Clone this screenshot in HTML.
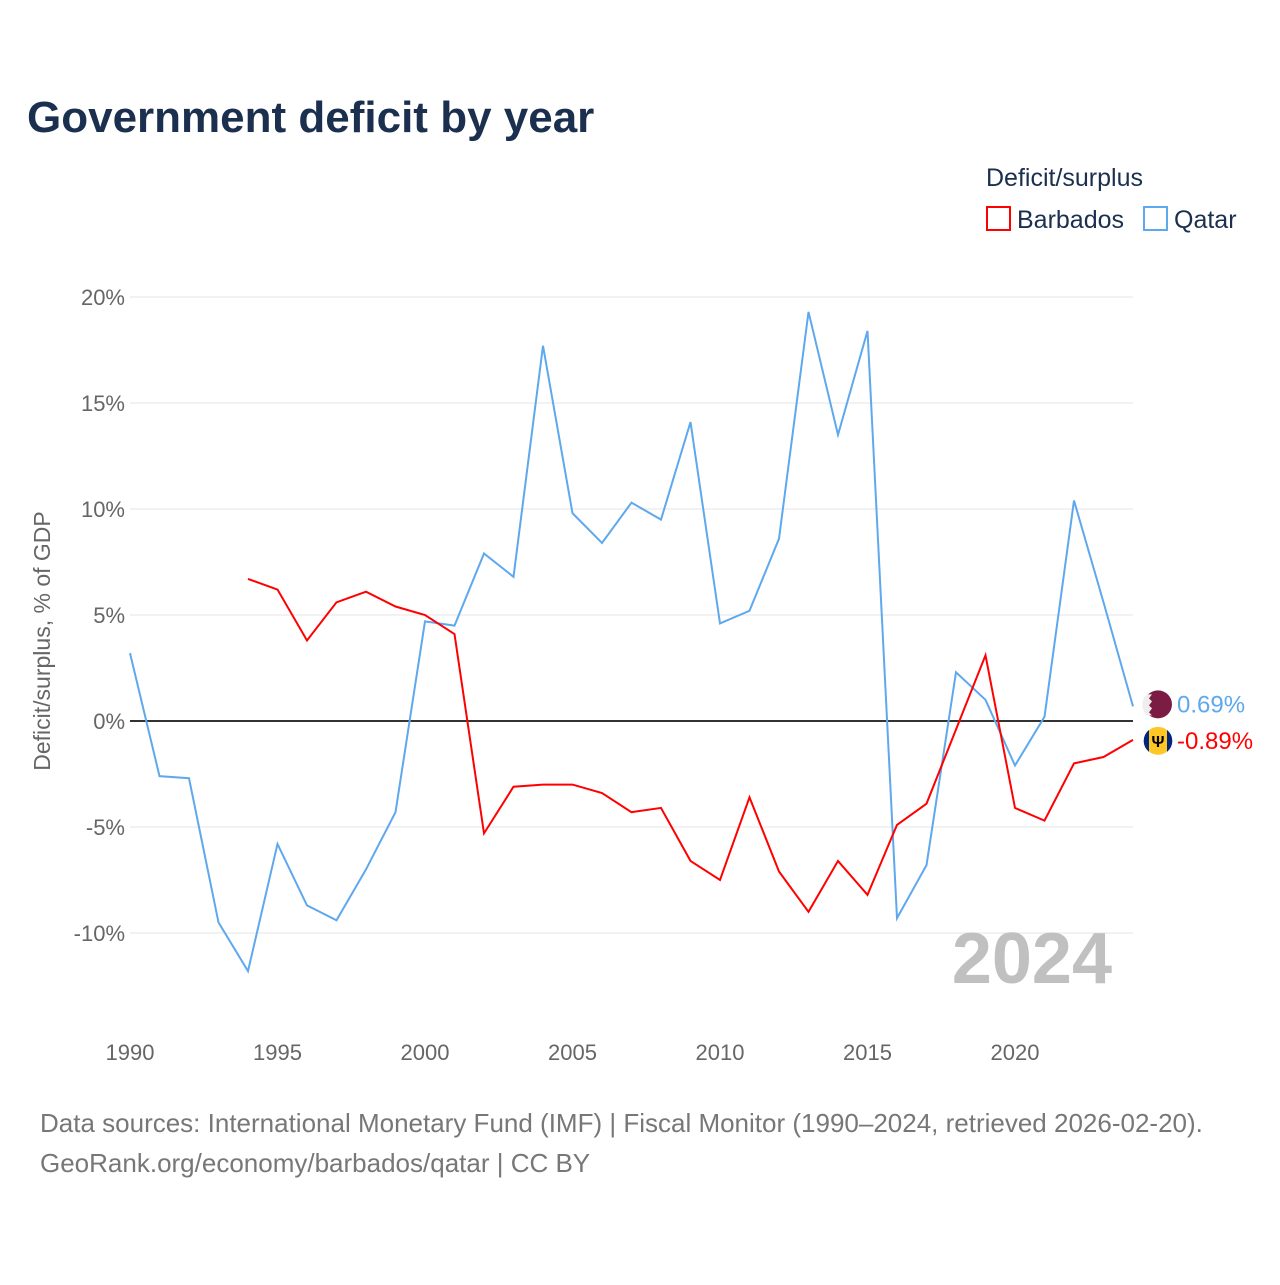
<!DOCTYPE html>
<html><head><meta charset="utf-8"><style>
body{margin:0;background:#fff;font-family:"Liberation Sans",sans-serif}
</style></head><body>
<svg id="chart" width="1280" height="1280" xmlns="http://www.w3.org/2000/svg" font-family="Liberation Sans, sans-serif">
<rect width="1280" height="1280" fill="#fff"/>
<text x="27" y="132" font-size="44" font-weight="bold" fill="#1b2f4f">Government deficit by year</text>
<text x="986" y="186" font-size="25" fill="#1b2f4f">Deficit/surplus</text>
<g><rect x="987" y="207" width="23" height="23" fill="none" stroke="#ff0000" stroke-width="2"/><text x="1017" y="228" font-size="25" fill="#1b2f4f">Barbados</text></g>
<g><rect x="1144" y="207" width="23" height="23" fill="none" stroke="#5ea8ee" stroke-width="2"/><text x="1174" y="228" font-size="25" fill="#1b2f4f">Qatar</text></g>
<g id="grid"></g><g id="series"></g>
<text x="1112" y="983" font-size="72" font-weight="bold" fill="#c0c0c0" text-anchor="end">2024</text>
<text transform="translate(50,641) rotate(-90)" font-size="23" fill="#666" text-anchor="middle">Deficit/surplus, % of GDP</text>
<text x="40" y="1132" font-size="26" fill="#777">Data sources: International Monetary Fund (IMF) | Fiscal Monitor (1990–2024, retrieved 2026-02-20).</text>
<text x="40" y="1172" font-size="26" fill="#777">GeoRank.org/economy/barbados/qatar | CC BY</text>
</svg>
<script>
const years=[];for(let y=1990;y<=2024;y++)years.push(y);
const qatar=[3.2,-2.6,-2.7,-9.5,-11.8,-5.8,-8.7,-9.4,-7.0,-4.3,4.7,4.5,7.9,6.8,17.7,9.8,8.4,10.3,9.5,14.1,4.6,5.2,8.6,19.3,13.5,18.4,-9.3,-6.8,2.3,1.0,-2.1,0.2,10.4,5.6,0.69];
const barbadosYears=[1994,1995,1996,1997,1998,1999,2000,2001,2002,2003,2004,2005,2006,2007,2008,2009,2010,2011,2012,2013,2014,2015,2016,2017,2018,2019,2020,2021,2022,2023,2024];
const barbados=[6.7,6.2,3.8,5.6,6.1,5.4,5.0,4.1,-5.3,-3.1,-3.0,-3.0,-3.4,-4.3,-4.1,-6.6,-7.5,-3.6,-7.1,-9.0,-6.6,-8.2,-4.9,-3.9,-0.4,3.1,-4.1,-4.7,-2.0,-1.7,-0.89];
const yTicks=[20,15,10,5,0,-5,-10];
const xTicks=[1990,1995,2000,2005,2010,2015,2020];
const X=y=>130+(y-1990)*(1133-130)/34, Y=v=>721-v*21.2;
const NS="http://www.w3.org/2000/svg";
function mk(t,a,p){const e=document.createElementNS(NS,t);for(const k in a)e.setAttribute(k,a[k]);p.appendChild(e);return e;}
const g=document.getElementById('grid');
yTicks.forEach(v=>{
 const l=mk('line',{x1:130,x2:1133,y1:Y(v),y2:Y(v),stroke:v===0?'#333':'#e6e6e6','stroke-width':v===0?2:1},g);
 
 
 const t=mk('text',{x:125,y:Y(v)+8,'font-size':22,fill:'#666','text-anchor':'end'},g);t.textContent=v+'%';
 
 
});
xTicks.forEach(v=>{const t=mk('text',{x:X(v),y:1060,'font-size':22,fill:'#666','text-anchor':'middle'},g);t.textContent=v;
 
 });
const s=document.getElementById('series');
const q=mk('polyline',{points:years.map((y,i)=>X(y)+','+Y(qatar[i])).join(' '),fill:'none',stroke:'#5ea8ee','stroke-width':2},s);


const b=mk('polyline',{points:barbadosYears.map((y,i)=>X(y)+','+Y(barbados[i])).join(' '),fill:'none',stroke:'#ff0000','stroke-width':2},s);


const qc=Y(qatar[qatar.length-1])-2, bc=Y(barbados[barbados.length-1])+1;
const fq=mk('g',{},s);


mk('circle',{cx:1158,cy:qc,r:14,fill:'#7a1c44'},fq);
mk('path',{d:`M1147,${qc-10} h5 l-3,4 l3,3 l-3,4 l3,3 l-3,4 l3,3 h-5 A14,14 0 0 1 1147,${qc-10} z`,fill:'#eee'},fq);
const tq=mk('text',{x:1177,y:qc+8,'font-size':24,fill:'#5ea8ee'},s);tq.textContent=qatar[qatar.length-1].toFixed(2)+'%';


const fb=mk('g',{},s);


mk('circle',{cx:1158,cy:bc,r:14,fill:'#ffc726'},fb);
mk('path',{d:`M1149,${bc-11} A14,14 0 0 0 1149,${bc+11} Z`,fill:'#00267f'},fb);
mk('path',{d:`M1167,${bc-11} A14,14 0 0 1 1167,${bc+11} Z`,fill:'#00267f'},fb);
const tr=mk('text',{x:1158,y:bc+6,'font-size':16,'font-weight':'bold','text-anchor':'middle',fill:'#000'},fb);tr.textContent='Ψ';
const tb=mk('text',{x:1177,y:bc+8,'font-size':24,fill:'#ff0000'},s);tb.textContent=barbados[barbados.length-1].toFixed(2)+'%';


</script>
</body></html>
